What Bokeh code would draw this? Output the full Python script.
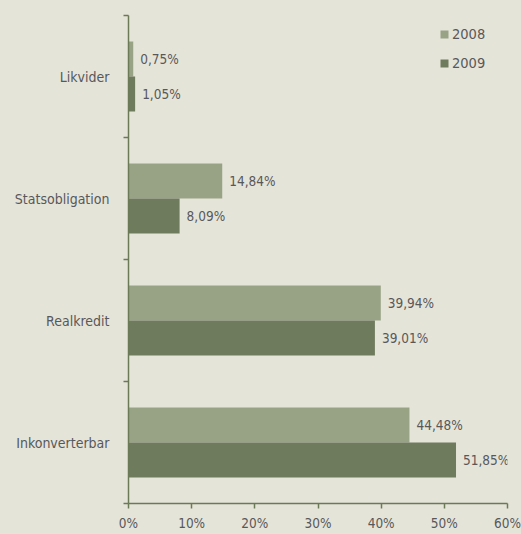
from bokeh.plotting import figure
from bokeh.models import ColumnDataSource, FixedTicker, Range1d, Legend, LegendItem
from bokeh.core.properties import value
from bokeh.embed import file_html
from bokeh.resources import INLINE

# data (bottom to top)
categories = ["Inkonverterbar", "Realkredit", "Statsobligation", "Likvider"]
values_2008 = [44.48, 39.94, 14.84, 0.75]
values_2009 = [51.85, 39.01, 8.09, 1.05]
series = ["2008", "2009"]
x_ticks = [0, 10, 20, 30, 40, 50, 60]

FONT = "DejaVu Sans Condensed"
BG = "#e5e4d9"
C2008 = "#97a384"
C2009 = "#6e7b5d"
AXIS = "#6b7a56"
TXT = "#58585a"

pos = list(range(len(categories)))
bar_h = 0.287
off = bar_h / 2

def fmt(v):
    return f"{v:.2f}".replace(".", ",") + "%"

src08 = ColumnDataSource(dict(y=[p_ + off for p_ in pos], v=values_2008,
                              lab=[fmt(v) for v in values_2008]))
src09 = ColumnDataSource(dict(y=[p_ - off for p_ in pos], v=values_2009,
                              lab=[fmt(v) for v in values_2009]))

p = figure(width=521, height=534, output_backend="svg", toolbar_location=None,
           x_range=Range1d(0, 60), y_range=Range1d(-0.5, len(categories) - 0.5),
           min_border_left=128, min_border_right=14, min_border_top=15, min_border_bottom=31)
p.background_fill_color = BG
p.border_fill_color = BG
p.outline_line_color = None
p.xgrid.grid_line_color = None
p.ygrid.grid_line_color = None

r08 = p.hbar(y="y", left=0, right="v", height=bar_h, source=src08,
             fill_color=C2008, line_color=None)
r09 = p.hbar(y="y", left=0, right="v", height=bar_h, source=src09,
             fill_color=C2009, line_color=None)

for s in (src08, src09):
    p.text(x="v", y="y", text="lab", source=s, x_offset=7,
           text_align="left", text_baseline="middle",
           text_font=value(FONT), text_font_size="13.5px", text_color=TXT)

# x axis
xa = p.xaxis[0]
xa.ticker = FixedTicker(ticks=x_ticks)
xa.major_label_overrides = {t: f"{t}%" for t in x_ticks}
xa.axis_line_color = AXIS
xa.axis_line_width = 1.5
xa.major_tick_line_color = AXIS
xa.major_tick_line_width = 1.5
xa.major_tick_out = 5
xa.major_tick_in = 0
xa.minor_tick_line_color = None
xa.major_label_standoff = 6
xa.major_label_text_font = FONT
xa.major_label_text_font_size = "13.5px"
xa.major_label_text_color = TXT

# y axis
ya = p.yaxis[0]
ya.ticker = FixedTicker(ticks=pos, minor_ticks=[i - 0.5 for i in range(len(categories) + 1)])
ya.major_label_overrides = {i: c for i, c in enumerate(categories)}
ya.axis_line_color = AXIS
ya.axis_line_width = 1.5
ya.major_tick_line_color = None
ya.major_tick_out = 0
ya.major_tick_in = 0
ya.minor_tick_line_color = AXIS
ya.minor_tick_line_width = 1.5
ya.minor_tick_out = 5
ya.minor_tick_in = 0
ya.major_label_standoff = 14
ya.major_label_text_font = FONT
ya.major_label_text_font_size = "14px"
ya.major_label_text_color = TXT

legend = Legend(items=[LegendItem(label=series[0], renderers=[r08]),
                       LegendItem(label=series[1], renderers=[r09])],
                location=(311, 432), orientation="vertical")
legend.background_fill_alpha = 0
legend.border_line_color = None
legend.glyph_width = 10
legend.glyph_height = 10
legend.label_height = 10
legend.spacing = 13
legend.padding = 0
legend.margin = 0
legend.label_standoff = 3
legend.label_text_font = FONT
legend.label_text_font_size = "14.5px"
legend.label_text_color = TXT
p.add_layout(legend)

html = file_html(p, INLINE)
html = html.replace("</head>", f"<style>html,body{{background:{BG};}}</style></head>", 1)
open("out.html", "w").write(html)
